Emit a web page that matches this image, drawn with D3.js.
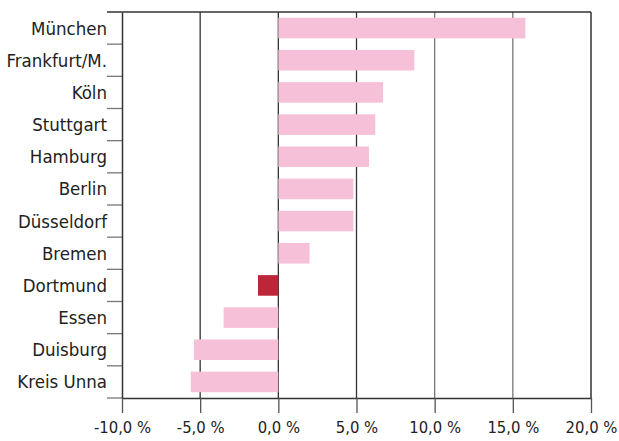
<!DOCTYPE html>
<html>
<head>
<meta charset="utf-8">
<script src="https://cdn.jsdelivr.net/npm/d3@7"></script>
<style>
  body { margin: 0; background: #fff; }
  text { font-family: "DejaVu Sans Condensed", sans-serif; fill: #222; }
</style>
</head>
<body>
<div id="chart"></div>
<script>
var cities = ["München", "Frankfurt/M.", "Köln", "Stuttgart", "Hamburg", "Berlin",
              "Düsseldorf", "Bremen", "Dortmund", "Essen", "Duisburg", "Kreis Unna"];
var change = [15.8, 8.7, 6.7, 6.2, 5.8, 4.8, 4.8, 2.0, -1.3, -3.5, -5.4, -5.6];
var highlight = "Dortmund";
var xTicks = [-10, -5, 0, 5, 10, 15, 20];

var width = 619, height = 441;
var margin = {top: 12, right: 28, bottom: 43, left: 122};

var svg = d3.select("#chart").append("svg")
    .attr("width", width)
    .attr("height", height);

var x = d3.scaleLinear()
    .domain([-10, 20])
    .range([margin.left, width - margin.right]);

var y = d3.scaleBand()
    .domain(cities)
    .range([margin.top, height - margin.bottom])
    .paddingInner(0.36)
    .paddingOuter(0.18);

var fmt = function(d) { return d3.format(".1f")(d).replace(".", ",").replace("\u2212", "-") + " %"; };

// gridlines
svg.append("g")
  .selectAll("line")
  .data(xTicks.slice(1, -1))
  .enter().append("line")
    .attr("x1", function(d) { return x(d); })
    .attr("x2", function(d) { return x(d); })
    .attr("y1", margin.top)
    .attr("y2", height - margin.bottom)
    .attr("stroke", function(d) { return d >= 10 ? "#777" : "#333"; })
    .attr("stroke-width", 1.3);

// bars
var data = cities.map(function(c, i) { return {city: c, v: change[i]}; });
svg.append("g")
  .selectAll("rect")
  .data(data)
  .enter().append("rect")
    .attr("x", function(d) { return x(Math.min(0, d.v)); })
    .attr("width", function(d) { return Math.abs(x(d.v) - x(0)); })
    .attr("y", function(d) { return y(d.city); })
    .attr("height", y.bandwidth())
    .attr("fill", function(d) { return d.city === highlight ? "#bb2639" : "#f7c0d9"; });

// frame: top and right
svg.append("line")
    .attr("x1", margin.left - 15).attr("x2", x(20))
    .attr("y1", margin.top).attr("y2", margin.top)
    .attr("stroke", "#333").attr("stroke-width", 1.5);
svg.append("line")
    .attr("x1", x(20)).attr("x2", x(20))
    .attr("y1", margin.top).attr("y2", height - margin.bottom)
    .attr("stroke", "#333").attr("stroke-width", 1.5);

// category separators on the left
var bounds = d3.range(cities.length + 1).map(function(i) { return margin.top + i * (height - margin.top - margin.bottom) / cities.length; });
svg.append("g")
  .selectAll("line")
  .data(bounds.slice(1))
  .enter().append("line")
    .attr("x1", margin.left - 15).attr("x2", margin.left)
    .attr("y1", function(d) { return d; }).attr("y2", function(d) { return d; })
    .attr("stroke", "#777").attr("stroke-width", 1.3);

// y axis
var yAxis = svg.append("g")
    .attr("transform", "translate(" + margin.left + ",0)")
    .call(d3.axisLeft(y).tickSize(0).tickPadding(15));
yAxis.select(".domain").attr("stroke", "#333").attr("stroke-width", 1.5);
yAxis.selectAll("text").style("font-size", "18.5px").attr("dy", "0.35em");

// x axis
var xAxis = svg.append("g")
    .attr("transform", "translate(0," + (height - margin.bottom) + ")")
    .call(d3.axisBottom(x).tickValues(xTicks).tickSize(15).tickSizeOuter(0).tickPadding(8).tickFormat(fmt));
xAxis.select(".domain").attr("stroke", "#333").attr("stroke-width", 1.5);
xAxis.selectAll(".tick line").attr("stroke", "#555").attr("stroke-width", 1.3);
xAxis.selectAll("text").style("font-size", "16.5px");
</script>
</body>
</html>
